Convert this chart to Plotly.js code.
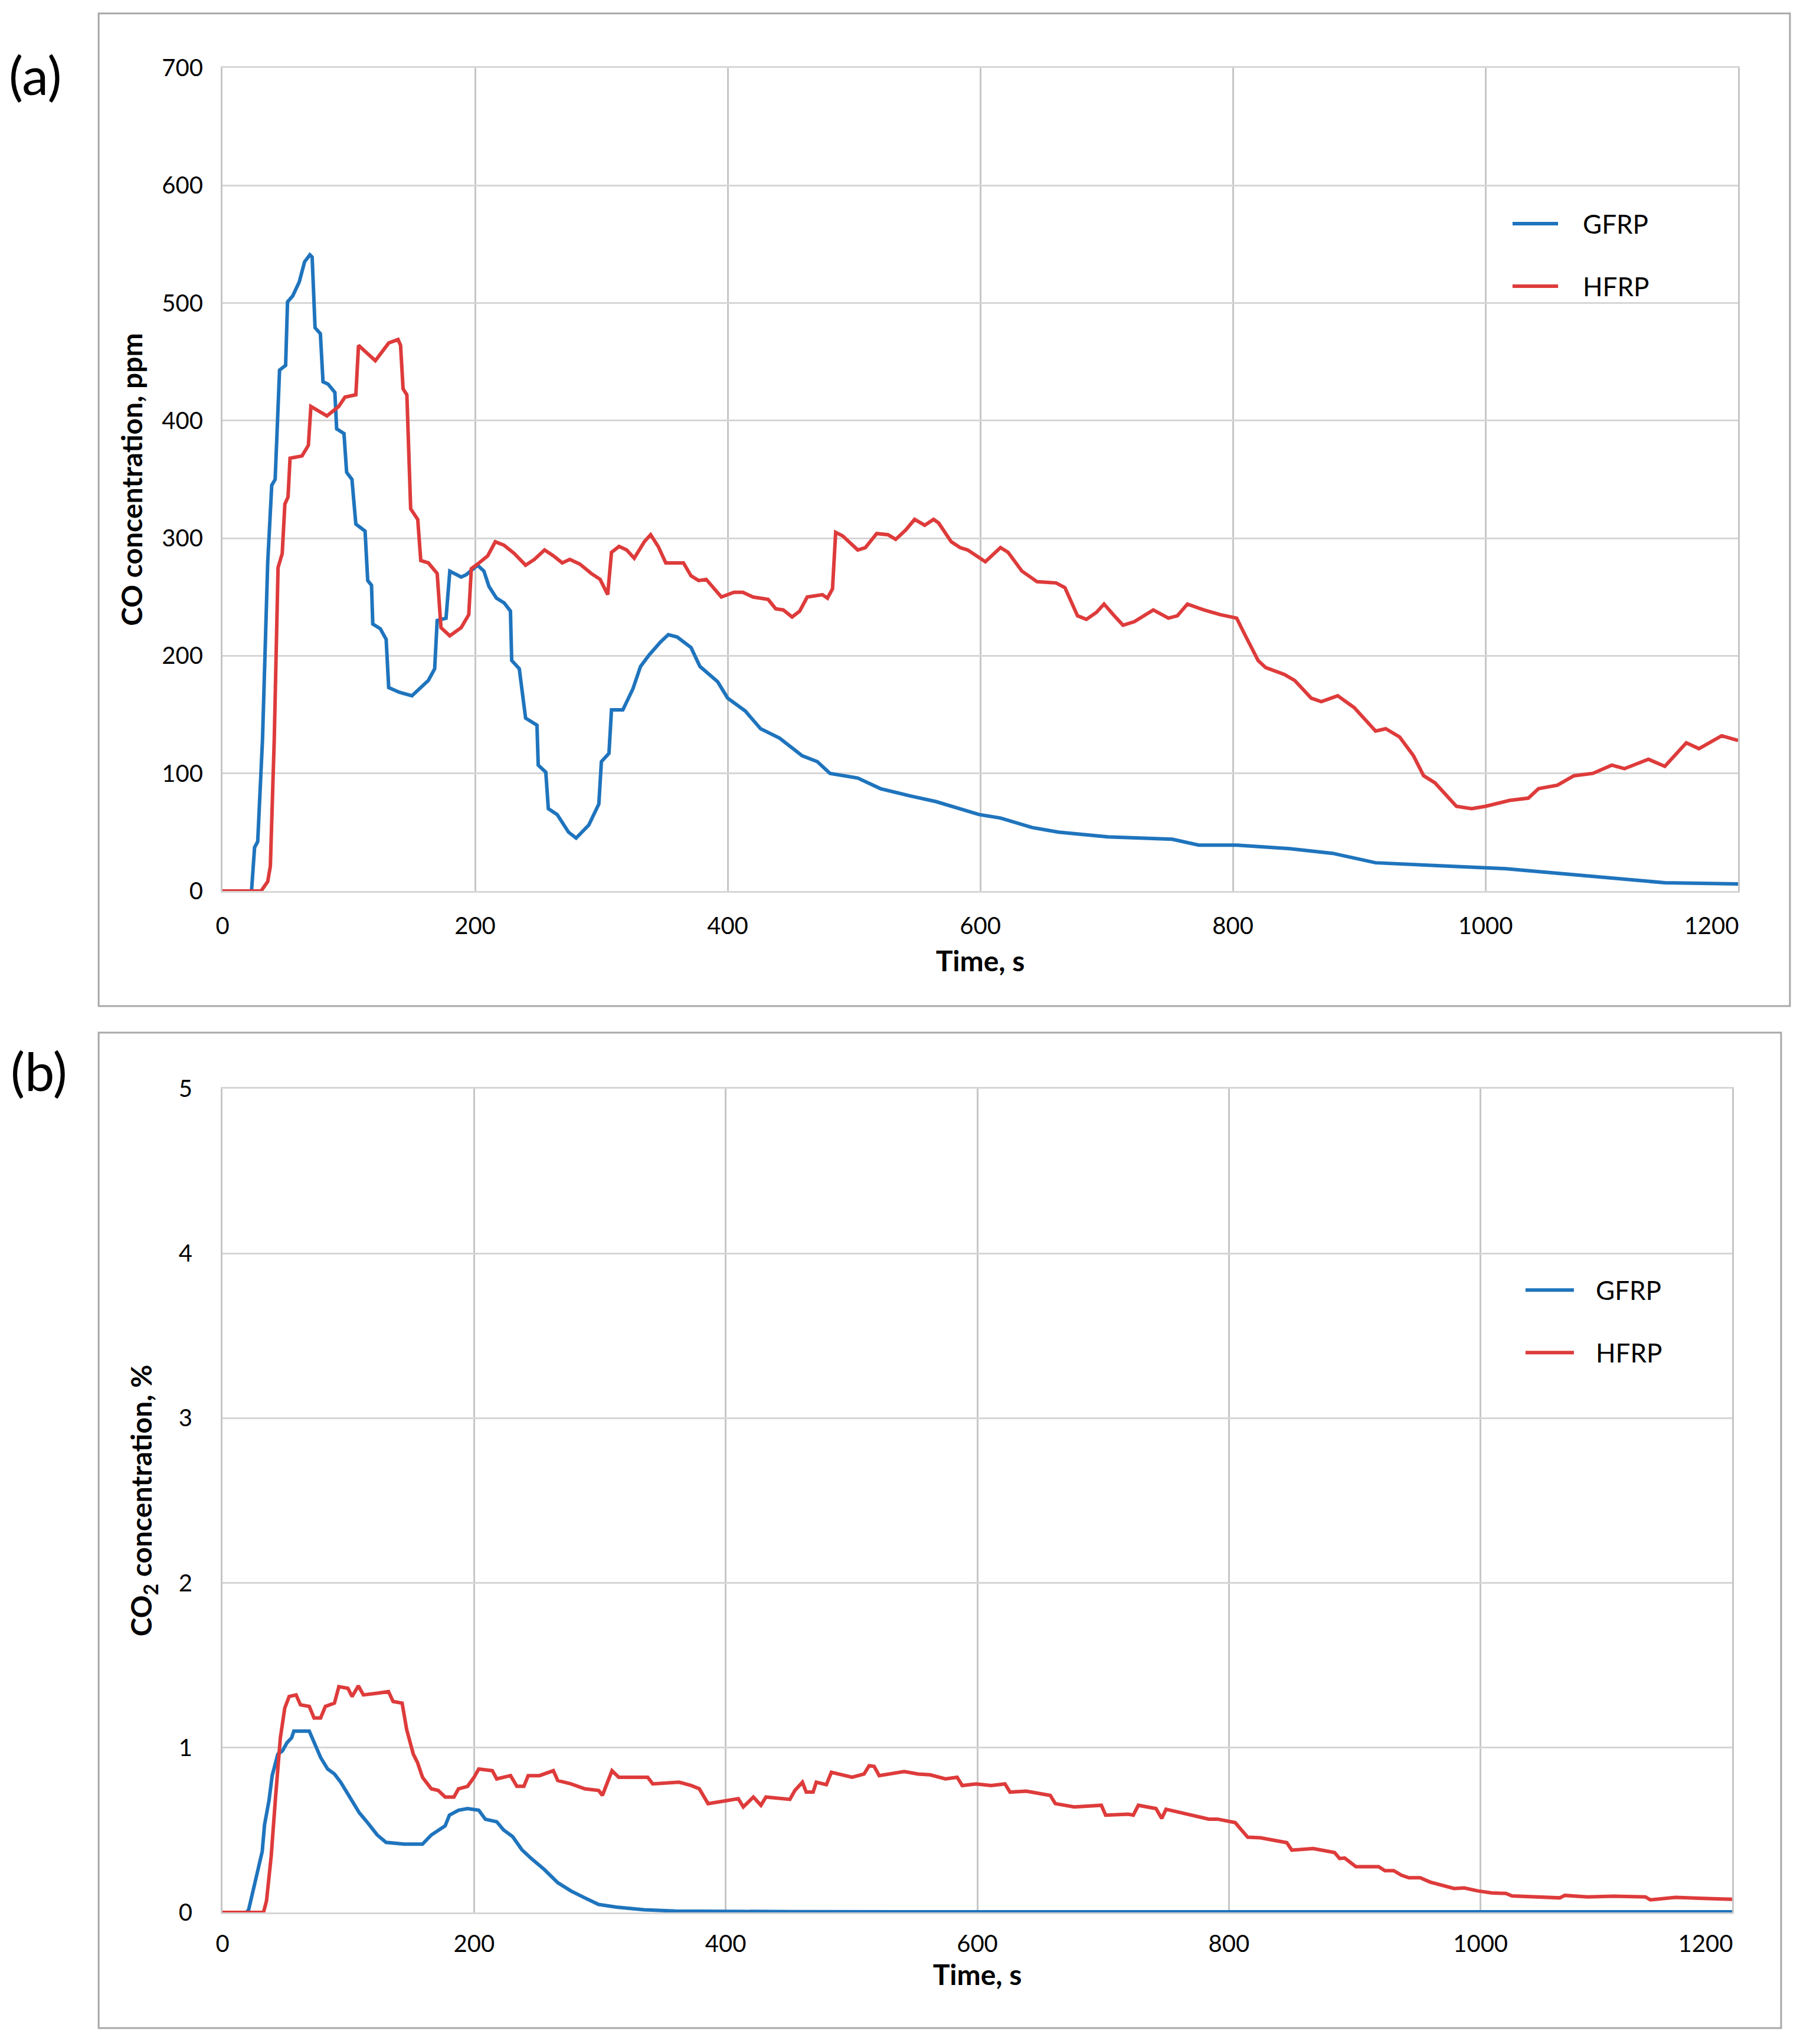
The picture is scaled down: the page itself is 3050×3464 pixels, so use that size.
<!DOCTYPE html>
<html>
<head>
<meta charset="utf-8">
<script src="https://cdn.plot.ly/plotly-3.0.1.min.js"></script>
<style>
  html, body { margin: 0; padding: 0; background: #fff; }
  #chart { width: 3050px; height: 3464px; }
</style>
</head>
<body>
<div id="chart"></div>
<script>
// ── Data: [time (s), value] ─────────────────────────────────────────
// (a) CO concentration, ppm
const gfrpCO = [
  [0,0],[23,0],[25.4,37],[27.9,42],[31.7,129],[35.8,279],[39,345],[41.7,350],[45.2,443],[50,447],
  [51.5,501],[55.6,506],[60.8,518],[65,535],[69.2,541],[71,539],[73.3,479],[77.5,474],[79.6,433],[83.7,431],
  [89,424],[90.4,393],[96.2,389],[98.3,356],[102.5,350],[105.6,312],[112.9,306],[115,264],[118,260],[119,227],
  [125,223],[129.6,214],[131.6,173],[140,169],[150,166],[156.6,173],[163,179],[168,189],[170,230],[177,232],
  [180,272],[189,267],[193,269],[202,277],[207,272],[211,259],[217,249],[223,245],[228,238],[229,196],
  [235,189],[240,147],[249,141],[250,107],[256,101],[258,70],[265,65],[274,50],[280,45],[290,56],
  [298,74],[300,110],[306,117],[308,154],[317,154],[325,172],[331,191],[338,201],[347,212],[353,218],
  [360,216],[371,207],[378,191],[392,178],[400,164],[414,153],[426,138],[441,130],[459,115],[471,110],
  [481,100],[503,96],[521,87],[544,81],[565,76],[599,65],[616,62],[641,54],[662,50],[701,46],
  [726,45],[752,44],[773,39],[803,39],[845,36],[879,32],[913,24],[947,22],[972,21],[1015,19],
  [1057,15],[1100,11],[1142,7],[1200,6]
];
const hfrpCO = [
  [0,0],[30.6,0],[35.8,8],[37.9,21],[41,129],[44,275],[47.3,287],[49.4,329],[51.9,335],[53.5,368],
  [63,370],[68,379],[70,412],[82.7,404],[92,412],[97,420],[105.6,422],[107.7,464],[121,451],[131.6,466],
  [139,469],[141,464],[143,427],[146,422],[149,325],[154.6,316],[157,281],[163,279],[170,270],[173,224],
  [180,217],[189,224],[195,235],[197,274],[202,278],[210,285],[216,297],[223,294],[231,287],[240,277],
  [247,282],[255,290],[262,285],[269,279],[275,282],[283,278],[292,270],[299,265],[305,252],[308,288],
  [314,293],[320,290],[326,283],[334,297],[339,303],[345,293],[351,279],[365,279],[371,268],[377,264],
  [383,265],[389,258],[395,250],[405,254],[412,254],[420,250],[432,248],[438,240],[444,239],[451,233],
  [457,238],[463,250],[475,252],[479,249],[483,257],[485.5,305],[491,302],[503,290],[509,292],[518,304],
  [527,303],[533,299],[541,307],[548,316],[556,311],[563,316],[567,313],[577,297],[584,292],[590,290],
  [604,280],[616,292],[622,288],[633,272],[645,263],[660,262],[667,258],[677,234],[684,231],[692,237],
  [698,244],[707,233],[713,226],[722,229],[737,239],[749,232],[756,234],[764,244],[777,239],[790,235],
  [803,232],[809,219],[820,196],[826,190],[841,184],[849,179],[862,164],[870,161],[883,166],[896,156],
  [913,136],[921,138],[932,131],[943,115],[951,98],[960,92],[977,72],[989,70],[1000,72],[1019,77],
  [1034,79],[1042,87],[1057,90],[1070,98],[1085,100],[1100,107],[1110,104],[1129,112],[1142,106],[1159,126],
  [1169,121],[1187,132],[1200,128]
];

// (b) CO2 concentration, %
const gfrpCO2 = [
  [0,0],[19,0],[20.8,0.016],[26,0.18],[31.6,0.37],[33.4,0.53],[37,0.68],[39.5,0.83],[44,0.96],[47.7,0.98],
  [51.3,1.03],[55,1.06],[56.7,1.10],[69,1.10],[72.8,1.03],[78,0.94],[83.6,0.87],[89,0.84],[94,0.79],[101.5,0.70],
  [108.7,0.605],[115.8,0.54],[123,0.47],[130,0.425],[144.5,0.414],[159,0.414],[166,0.47],[177,0.525],[180.4,0.59],[187.6,0.62],
  [194.8,0.63],[203.7,0.62],[209,0.565],[218,0.55],[223.5,0.50],[230.6,0.46],[238,0.38],[245,0.33],[255.8,0.26],[266.5,0.18],
  [277,0.13],[288,0.088],[299,0.048],[313,0.032],[335,0.016],[360,0.008],[456,0.004],[700,0.003],[1000,0.003],[1200,0.003]
];
const hfrpCO2 = [
  [0,0],[32.6,0],[35,0.07],[38.7,0.34],[42.3,0.71],[46,1.06],[49.5,1.24],[53,1.31],[58.5,1.32],[62,1.26],
  [69,1.25],[72.8,1.18],[78,1.18],[81.8,1.25],[89,1.27],[92.5,1.37],[99.7,1.36],[103,1.31],[108,1.375],[112,1.32],
  [123,1.33],[132,1.34],[135.6,1.28],[142.8,1.27],[146.4,1.11],[151.7,0.96],[155,0.91],[159,0.82],[166,0.75],[171.5,0.74],
  [177,0.70],[184,0.70],[187.6,0.75],[194.8,0.765],[200,0.82],[203.7,0.87],[214.5,0.86],[218,0.81],[229,0.83],[234,0.765],
  [239.6,0.765],[243,0.83],[252,0.83],[263,0.86],[266.5,0.80],[277,0.78],[288,0.75],[299,0.74],[302,0.71],[309.6,0.86],
  [315,0.82],[338,0.82],[342,0.78],[363,0.79],[372.5,0.77],[379,0.75],[386,0.66],[399.5,0.674],[410,0.69],[414,0.64],
  [422,0.70],[428,0.65],[432,0.70],[451,0.686],[455,0.74],[461,0.79],[464,0.73],[469.5,0.73],[472,0.79],[480,0.775],
  [484,0.85],[500.5,0.82],[510,0.84],[514,0.89],[518,0.886],[522,0.83],[531.5,0.84],[542,0.855],[553,0.84],[562.5,0.835],
  [574.6,0.81],[584,0.82],[588,0.77],[599,0.78],[611,0.77],[622,0.78],[626,0.73],[639,0.736],[658,0.71],[662,0.66],
  [677,0.64],[698.6,0.65],[702,0.59],[720,0.596],[724,0.59],[728,0.65],[742,0.63],[746.6,0.57],[750,0.626],[766,0.60],
  [784,0.566],[791,0.566],[805,0.545],[810,0.50],[815,0.456],[825,0.453],[835,0.44],[846,0.423],[850,0.378],[867,0.387],
  [884,0.363],[888,0.327],[892,0.33],[901,0.277],[919,0.277],[924,0.253],[931,0.253],[937,0.226],[943,0.21],[952,0.21],
  [960,0.184],[971,0.16],[979,0.145],[987,0.148],[998,0.13],[1009,0.118],[1020,0.115],[1025,0.10],[1041,0.094],[1063,0.088],
  [1067,0.103],[1085,0.094],[1106,0.098],[1131,0.094],[1135,0.076],[1155,0.091],[1177,0.085],[1200,0.079]
];

// Ticks and labels
const timeTicks  = [0, 200, 400, 600, 800, 1000, 1200];
const timeLabels = ["0", "200", "400", "600", "800", "1000", "1200"];
const coTicks    = [0, 100, 200, 300, 400, 500, 600, 700];
const co2Ticks   = [0, 1, 2, 3, 4, 5];
const seriesNames = ["GFRP", "HFRP"];

// ── Style ───────────────────────────────────────────────────────────
const FONT  = 'Lato, "Open Sans", sans-serif';
const BLUE  = "#1f74bd";
const RED   = "#de3b3b";
const VGRID = "#c6c6c6";
const HGRID = "#d6d6d6";
const LINE_W = 6;

function lineTrace(pairs, name, color, xa, ya) {
  return {
    x: pairs.map(p => p[0]),
    y: pairs.map(p => p[1]),
    type: "scatter",
    mode: "lines",
    name,
    xaxis: xa,
    yaxis: ya,
    showlegend: false,
    line: { color, width: LINE_W },
    hoverinfo: "skip",
  };
}

const traces = [
  lineTrace(gfrpCO,  seriesNames[0], BLUE, "x",  "y"),
  lineTrace(hfrpCO,  seriesNames[1], RED,  "x",  "y"),
  lineTrace(gfrpCO2, seriesNames[0], BLUE, "x2", "y2"),
  lineTrace(hfrpCO2, seriesNames[1], RED,  "x2", "y2"),
];

// last label sits a little inside the plot edge, as in the original
const shiftedLabels = timeLabels.map((t, i) =>
  i === timeLabels.length - 1 ? t + "\u2003\u2003\u2003" : t);

function xAxis(domain, anchor, standoff, titleStandoff) {
  return {
    domain, anchor,
    range: [0, 1200],
    tickvals: timeTicks,
    ticktext: shiftedLabels,
    ticks: "",
    ticklabelstandoff: standoff,
    showgrid: true, gridcolor: VGRID, gridwidth: 3,
    showline: true, linecolor: HGRID, linewidth: 3, mirror: true,
    zeroline: false,
    automargin: false,
    tickfont: { family: FONT, size: 40, color: "#000" },
    title: { text: "<b>Time, s</b>", standoff: titleStandoff,
             font: { family: FONT, size: 48, color: "#000" } },
  };
}

function yAxis(domain, anchor, range, tickvals, title, standoff, titleStandoff) {
  return {
    domain, anchor, range, tickvals,
    ticks: "",
    ticklabelstandoff: standoff,
    showgrid: true, gridcolor: HGRID, gridwidth: 3,
    showline: true, linecolor: VGRID, linewidth: 3, mirror: true,
    zeroline: false,
    automargin: false,
    tickfont: { family: FONT, size: 40, color: "#000" },
    title: { text: title, standoff: titleStandoff,
             font: { family: FONT, size: 48, color: "#000" } },
  };
}

// Panel frames
const frame = (y0, y1, x1) => ({
  type: "rect", xref: "paper", yref: "paper",
  x0: 0.0548, x1, y0, y1,
  line: { color: "#a8a8a8", width: 3 },
  fillcolor: "rgba(0,0,0,0)",
  layer: "below",
});

// Legend: a line sample and a label per series, placed inside each panel
function legendItems(x0, x1, xText, yTop, yStep) {
  const colors = [BLUE, RED];
  const shapes = [], annotations = [];
  seriesNames.forEach((name, i) => {
    const y = yTop - i * yStep;
    shapes.push({
      type: "line", xref: "paper", yref: "paper",
      x0, x1, y0: y, y1: y,
      line: { color: colors[i], width: LINE_W },
    });
    annotations.push({
      text: name, xref: "paper", yref: "paper",
      x: xText, y, xanchor: "left", yanchor: "middle",
      showarrow: false,
      font: { family: FONT, size: 44, color: "#000" },
    });
  });
  return { shapes, annotations };
}

const legA = legendItems(0.8403, 0.8656, 0.8787, 0.8906, 0.0306);
const legB = legendItems(0.8475, 0.8744, 0.8859, 0.3689, 0.0306);

const layout = {
  width: 3050,
  height: 3464,
  margin: { l: 0, r: 0, t: 0, b: 0 },
  paper_bgcolor: "#fff",
  plot_bgcolor: "#fff",
  showlegend: false,
  xaxis:  xAxis([0.1236, 0.9656], "y", 22, 22),
  yaxis:  yAxis([0.5641, 0.9668], "x", [0, 700], coTicks,
                "<b>CO concentration, ppm</b>", 22, 18),
  xaxis2: xAxis([0.1236, 0.9623], "y2", 16, 14),
  yaxis2: yAxis([0.0644, 0.4674], "x2", [0, 5], co2Ticks,
                "<b>CO<sub>2</sub> concentration, %</b>", 40, 30),
  shapes: [
    frame(0.5078, 0.9934, 0.9944),
    frame(0.0078, 0.4948, 0.9895),
  ].concat(legA.shapes, legB.shapes),
  annotations: [
    { text: "(a)", xref: "paper", yref: "paper", x: 0.0197, y: 0.9636,
      xanchor: "center", yanchor: "middle",
      showarrow: false, font: { family: FONT, size: 90, color: "#000" } },
    { text: "(b)", xref: "paper", yref: "paper", x: 0.0216, y: 0.4763,
      xanchor: "center", yanchor: "middle",
      showarrow: false, font: { family: FONT, size: 90, color: "#000" } },
  ].concat(legA.annotations, legB.annotations),
};

Plotly.newPlot("chart", traces, layout, { displayModeBar: false, staticPlot: true });
</script>
</body>
</html>
